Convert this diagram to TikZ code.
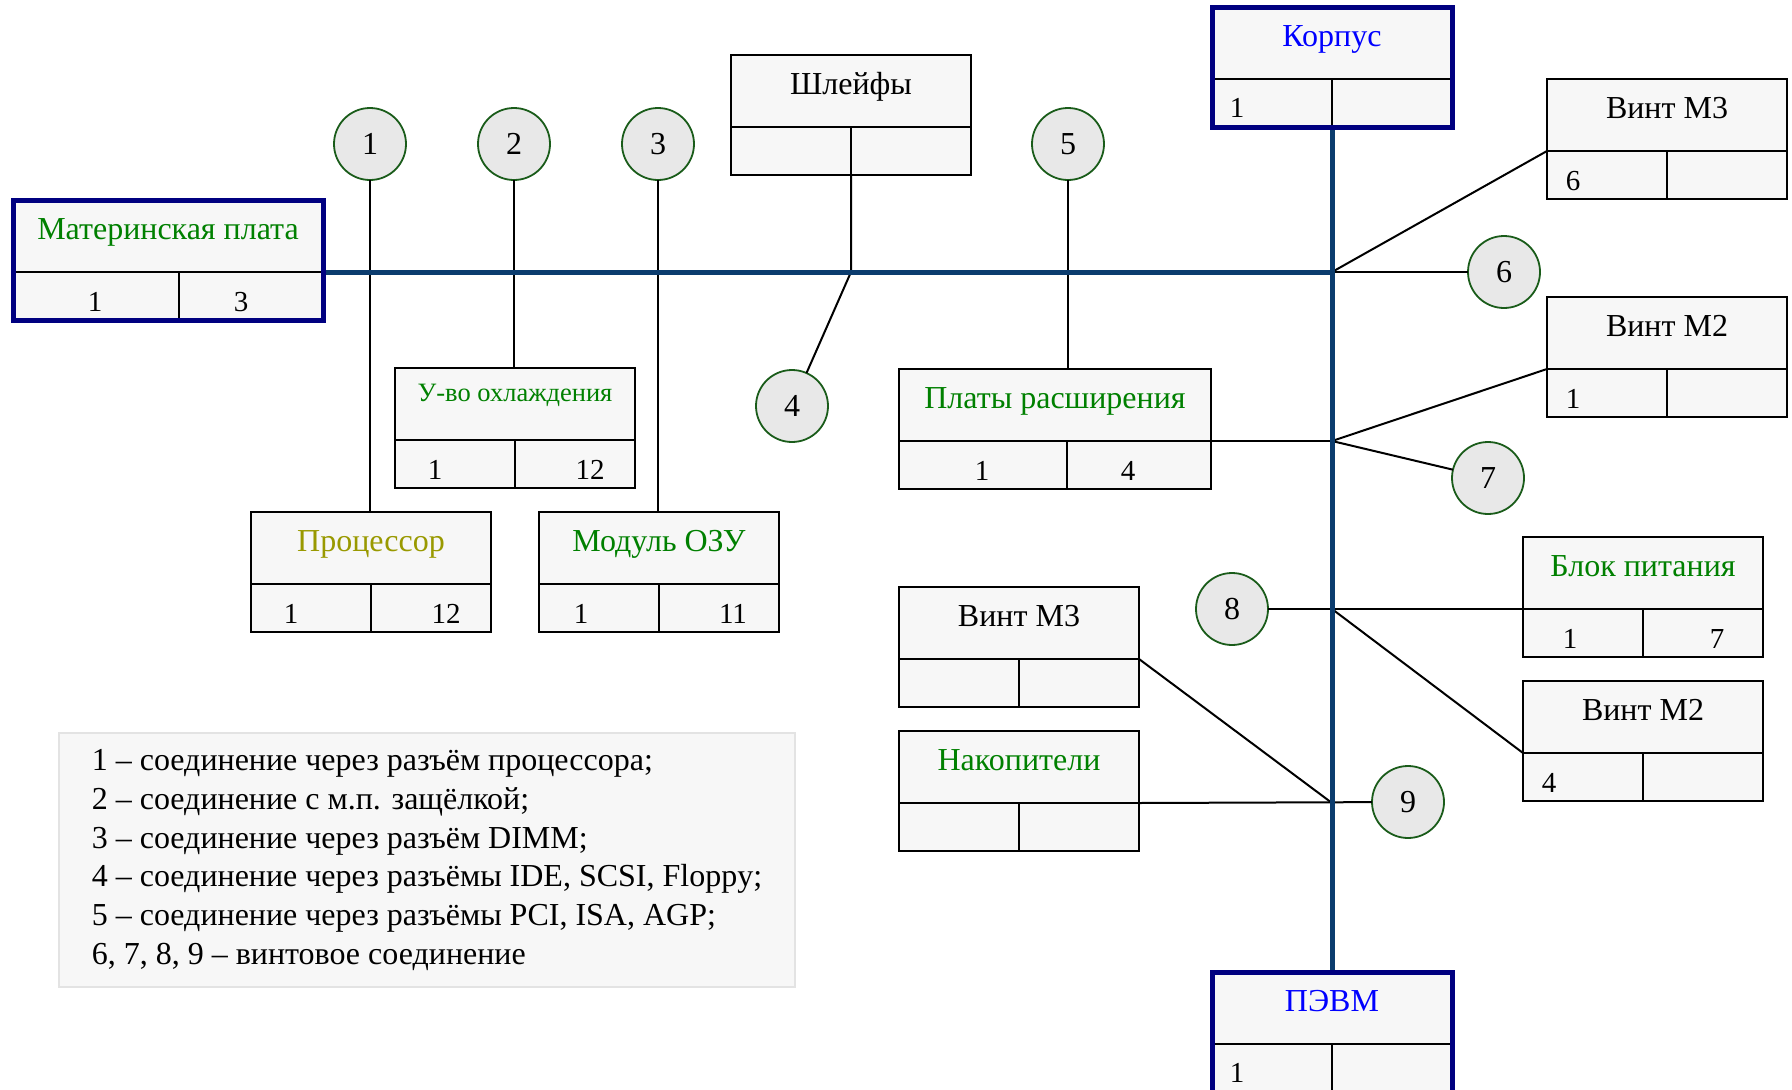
\documentclass[tikz,border=0pt]{standalone}
\usepackage{fontspec}
\setmainfont{Liberation Serif}
\usetikzlibrary{calc}
\definecolor{boxbg}{HTML}{F7F7F7}
\definecolor{circbg}{HTML}{E8E8E8}
\definecolor{circbd}{HTML}{1A5C1A}
\definecolor{busc}{HTML}{0B3C6E}
\definecolor{navyf}{HTML}{000080}
\definecolor{tgreen}{HTML}{008000}
\definecolor{tblue}{HTML}{0000FF}
\definecolor{tolive}{HTML}{999900}
\definecolor{legbd}{HTML}{E3E3E3}
\tikzset{
 hdr/.style={draw=black, line width=2pt, fill=boxbg, anchor=north west, outer sep=0pt, inner xsep=0pt, inner ysep=0pt, minimum height=72pt, text height=39pt, text depth=33pt, font=\fontsize{32}{38}\selectfont},
 cellbox/.style={draw=black, line width=2pt, fill=boxbg, anchor=north west, outer sep=0pt, inner sep=0pt, minimum height=48pt},
 num/.style={anchor=base, inner sep=0pt, font=\fontsize{29}{34}\selectfont},
 circ/.style={circle, draw=circbd, line width=1.8pt, fill=circbg, minimum size=72pt, inner sep=0pt, outer sep=0pt, font=\fontsize{32}{38}\selectfont},
 conn/.style={draw=black, line width=2pt},
 bus/.style={draw=busc, line width=5pt},
 navyframe/.style={draw=navyf, line width=5pt},
 legend/.style={draw=legbd, line width=1.5pt, fill=boxbg, minimum width=736pt, minimum height=254pt, align=left, inner xsep=32pt, font=\fontsize{32}{38.8}\selectfont},
}
\newcommand\ubox[6][]{%
 \node[hdr, minimum width=#4, #1] (#2) at (#3) {#6};
 \node[cellbox, minimum width=#5] (#2-l) at (#2.south west) {};
 \node[cellbox, minimum width={#4-#5}] (#2-r) at (#2-l.north east) {};
}
\begin{document}
\begin{tikzpicture}[x=1pt, y=-1pt]
\fill[white] (0,0) rectangle (1792,1090);
\useasboundingbox (0,0) rectangle (1792,1090);

% boxes
\ubox[text=tgreen]{mb}{13,200}{310}{166}{Материнская плата}
\ubox[text=tblue]{korp}{1212,7}{240}{120}{Корпус}
\ubox[text=tblue]{pevm}{1212,972}{240}{120}{ПЭВМ}
\ubox{shl}{731,55}{240}{120}{Шлейфы}
\ubox[text=tgreen, text height=33pt, text depth=39pt, font=\fontsize{26.5}{31}\selectfont]{uvo}{395,368}{240}{120}{У-во охлаждения}
\ubox[text=tolive]{proc}{251,512}{240}{120}{Процессор}
\ubox[text=tgreen]{ozu}{539,512}{240}{120}{Модуль ОЗУ}
\ubox[text=tgreen]{pl}{899,369}{312}{168}{Платы расширения}
\ubox{vmA}{1547,79}{240}{120}{Винт М3}
\ubox{vmB}{1547,297}{240}{120}{Винт М2}
\ubox[text=tgreen]{bp}{1523,537}{240}{120}{Блок питания}
\ubox{vmC}{1523,681}{240}{120}{Винт М2}
\ubox{vmD}{899,587}{240}{120}{Винт М3}
\ubox[text=tgreen]{nak}{899,731}{240}{120}{Накопители}

% cell numbers
\node[num] (mb-n1) at (95,311) {1};
\node[num] (mb-n2) at (241,311) {3};
\node[num] (korp-n1) at (1237,117) {1};
\node[num] (pevm-n1) at (1237,1082) {1};
\node[num] (uvo-n1) at (435,479) {1};
\node[num] (uvo-n2) at (590,479) {12};
\node[num] (proc-n1) at (291,623) {1};
\node[num] (proc-n2) at (446,623) {12};
\node[num] (ozu-n1) at (581,623) {1};
\node[num] (ozu-n2) at (733,623) {11};
\node[num] (pl-n1) at (982,480) {1};
\node[num] (pl-n2) at (1128,480) {4};
\node[num] (vmA-n1) at (1573,190) {6};
\node[num] (vmB-n1) at (1573,408) {1};
\node[num] (bp-n1) at (1570,648) {1};
\node[num] (bp-n2) at (1717,648) {7};
\node[num] (vmC-n1) at (1549,792) {4};

% circles
\node[circ] (c1) at (370,144) {1};
\node[circ] (c2) at (514,144) {2};
\node[circ] (c3) at (658,144) {3};
\node[circ] (c4) at (792,406) {4};
\node[circ] (c5) at (1068,144) {5};
\node[circ] (c6) at (1504,272) {6};
\node[circ] (c7) at (1488,478) {7};
\node[circ] (c8) at (1232,609) {8};
\node[circ] (c9) at (1408,802) {9};

% junctions
\coordinate (jA) at (korp-l.south east |- mb.south east);
\coordinate (jS) at (shl-l.south east |- mb.south east);
\coordinate (jB) at (jA |- pl.south east);
\coordinate (jC) at (jA |- bp.south west);
\coordinate (jD) at (jA |- nak.south east);
\coordinate (jE) at (jA |- pevm.north);

% connectors
\draw[conn] (c1) -- (c1 |- proc.north);
\draw[conn] (c2) -- (c2 |- uvo.north);
\draw[conn] (c3) -- (c3 |- ozu.north);
\draw[conn] (shl-l.south east) -- (jS) -- (c4);
\draw[conn] (c5) -- (c5 |- pl.north);
\draw[conn] (jA) -- (vmA.south west);
\draw[conn] (jA) -- (c6);
\draw[conn] (pl.south east) -- (jB);
\draw[conn] (jB) -- (vmB.south west);
\draw[conn] (jB) -- (c7);
\draw[conn] (c8) -- (bp.south west);
\draw[conn] (jC) -- (vmC.south west);
\draw[conn] (vmD.south east) -- (jD);
\draw[conn] (nak.south east) -- (c9);

% buses
\draw[bus] (mb.south east) -- (jA);
\draw[bus] (korp-l.south east) -- (jE);

% thick frames
\draw[navyframe] (mb.north west) rectangle (mb-r.south east);
\draw[navyframe] (korp.north west) rectangle (korp-r.south east);
\draw[navyframe] (pevm.north west) rectangle (pevm-r.south east);

% legend
\node[legend] (leg) at (427,860) {1 – соединение через разъём процессора;\\
2 – соединение с м.п. защёлкой;\\
3 – соединение через разъём DIMM;\\
4 – соединение через разъёмы IDE, SCSI, Floppy;\\
5 – соединение через разъёмы PCI, ISA, AGP;\\
6, 7, 8, 9 – винтовое соединение};
\end{tikzpicture}
\end{document}
